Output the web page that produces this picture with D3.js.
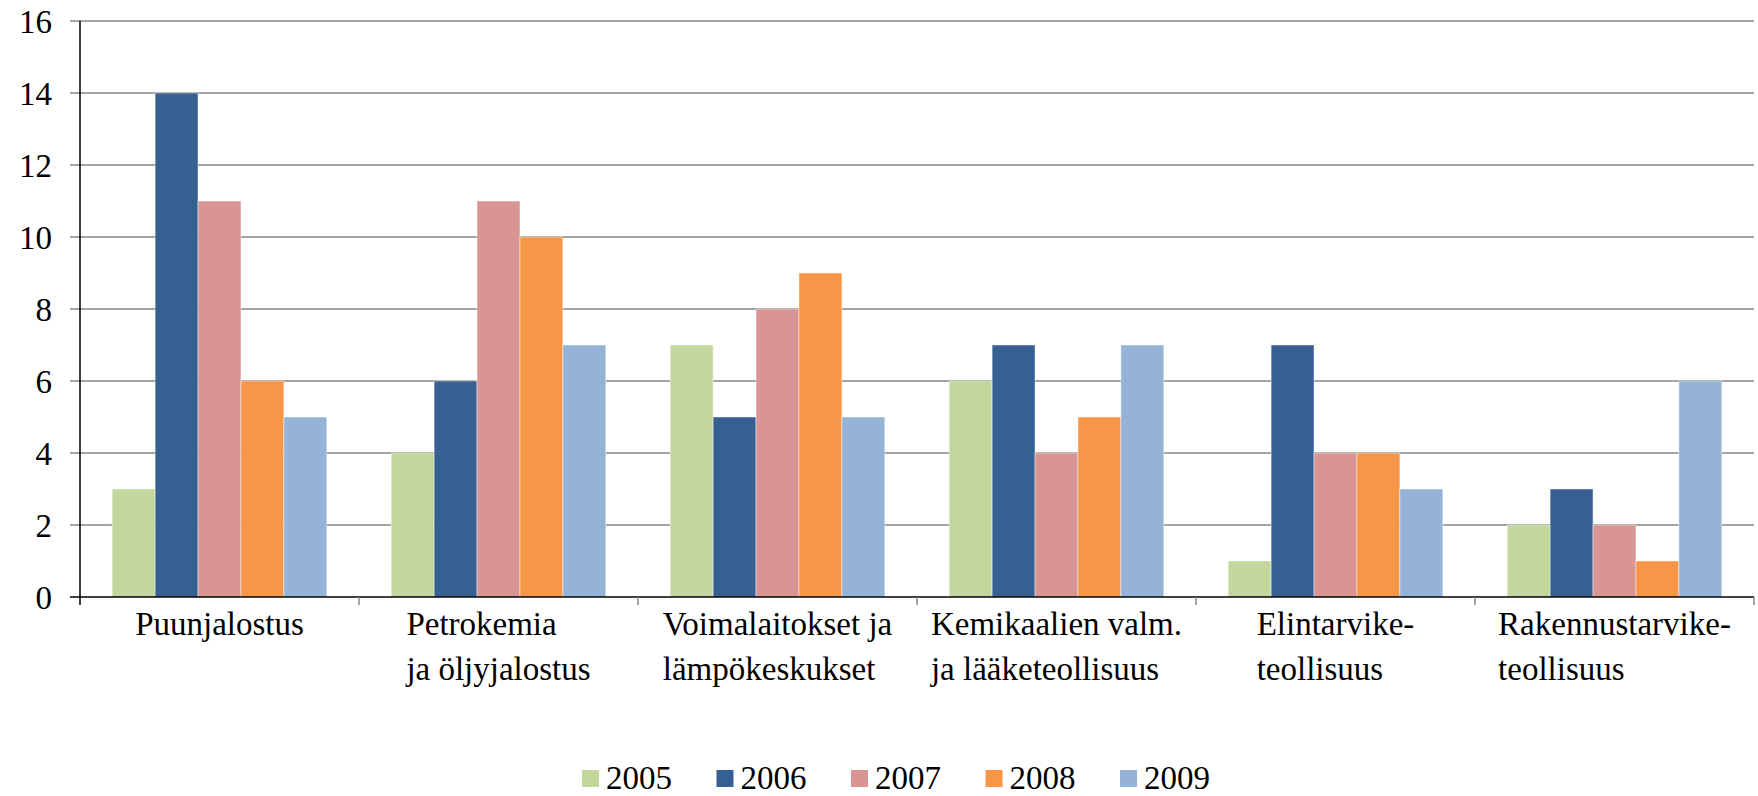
<!DOCTYPE html>
<html>
<head>
<meta charset="utf-8">
<script src="https://cdn.jsdelivr.net/npm/d3@7"></script>
<style>
  body { margin: 0; background: #fff; }
  svg text { font-family: "Liberation Serif", "DejaVu Serif", serif; }
</style>
</head>
<body>
<div id="container"></div>
<script>
/* CONSTANTS AND GLOBALS */
const width = 1758,
  height = 796,
  margin = { top: 21, bottom: 199, left: 80, right: 4 };

// categories (each label line separately)
const categories = [
  ["Puunjalostus"],
  ["Petrokemia", "ja öljyjalostus"],
  ["Voimalaitokset ja", "lämpökeskukset"],
  ["Kemikaalien valm.", "ja lääketeollisuus"],
  ["Elintarvike-", "teollisuus"],
  ["Rakennustarvike-", "teollisuus"]
];
const years = ["2005", "2006", "2007", "2008", "2009"];
const colors = ["#C3D69B", "#376092", "#D99594", "#F79646", "#95B3D7"];

// values per year, in category order
const v2005 = [3, 4, 7, 6, 1, 2];
const v2006 = [14, 6, 5, 7, 7, 3];
const v2007 = [11, 11, 8, 4, 4, 2];
const v2008 = [6, 10, 9, 5, 4, 1];
const v2009 = [5, 7, 5, 7, 3, 6];
const series = [v2005, v2006, v2007, v2008, v2009];

const yTicks = [0, 2, 4, 6, 8, 10, 12, 14, 16];

const svg = d3.select("#container")
  .append("svg")
  .attr("width", width)
  .attr("height", height);

const catIdx = categories.map((d, i) => i);

/* SCALES */
const xScale = d3.scaleBand()
  .domain(catIdx)
  .range([margin.left, width - margin.right])
  .padding(0);

// bars within category: 5 bars + gap of 1.5 bar widths
const barW = xScale.bandwidth() / 6.5;
const xInner = d3.scaleBand()
  .domain(years)
  .range([0.75 * barW, 5.75 * barW])
  .padding(0);

const yScale = d3.scaleLinear()
  .domain([0, 16])
  .range([height - margin.bottom, margin.top]);

const y0 = yScale(0);

// gridlines
svg.append("g")
  .selectAll("line")
  .data(yTicks.filter(d => d > 0))
  .join("line")
  .attr("x1", margin.left - 10)
  .attr("x2", width - margin.right)
  .attr("y1", d => yScale(d))
  .attr("y2", d => yScale(d))
  .attr("stroke", "#868686")
  .attr("stroke-width", 1.5);

// y tick labels
svg.append("g")
  .selectAll("text")
  .data(yTicks)
  .join("text")
  .attr("x", 52)
  .attr("y", d => yScale(d))
  .attr("dy", "0.35em")
  .attr("text-anchor", "end")
  .style("font-size", "33px")
  .text(d => d);

// bars
series.forEach((vals, s) => {
  svg.append("g")
    .selectAll("rect")
    .data(vals)
    .join("rect")
    .attr("x", (d, i) => xScale(i) + xInner(years[s]))
    .attr("width", xInner.bandwidth())
    .attr("y", d => yScale(d))
    .attr("height", d => y0 - yScale(d))
    .attr("fill", colors[s])
    .attr("stroke", "rgba(255,255,255,0.45)")
    .attr("stroke-width", 1);
});

// x axis line and ticks
svg.append("line")
  .attr("x1", margin.left - 10)
  .attr("x2", width - margin.right)
  .attr("y1", y0).attr("y2", y0)
  .attr("stroke", "#000").attr("stroke-width", 1.5);

const bounds = catIdx.map(i => xScale(i)).concat([width - margin.right]);
svg.append("g")
  .selectAll("line")
  .data(bounds.slice(1))
  .join("line")
  .attr("x1", d => d).attr("x2", d => d)
  .attr("y1", y0).attr("y2", y0 + 8)
  .attr("stroke", "#868686").attr("stroke-width", 1.5);

// y axis line
svg.append("line")
  .attr("x1", margin.left).attr("x2", margin.left)
  .attr("y1", margin.top).attr("y2", y0 + 8)
  .attr("stroke", "#000").attr("stroke-width", 1.5);

// category labels: lines left aligned, block centred in band
catIdx.forEach(i => {
  const t = svg.append("text")
    .style("font-size", "33px");
  t.selectAll("tspan")
    .data(categories[i])
    .join("tspan")
    .attr("y", (d, k) => 635 + k * 45)
    .text(d => d);
  let maxW = 0;
  t.selectAll("tspan").each(function() {
    maxW = Math.max(maxW, this.getComputedTextLength());
  });
  const cx = xScale(i) + xScale.bandwidth() / 2;
  t.selectAll("tspan").attr("x", cx - maxW / 2);
});

// legend
const legend = svg.append("g")
  .selectAll("g")
  .data(years)
  .join("g")
  .attr("transform", (d, i) => `translate(${582 + i * 134.5},779)`);

legend.append("rect")
  .attr("x", 0).attr("y", -9)
  .attr("width", 17).attr("height", 17)
  .attr("fill", (d, i) => colors[i]);

legend.append("text")
  .attr("x", 24)
  .attr("y", 10)
  .style("font-size", "33px")
  .text(d => d);
</script>
</body>
</html>
